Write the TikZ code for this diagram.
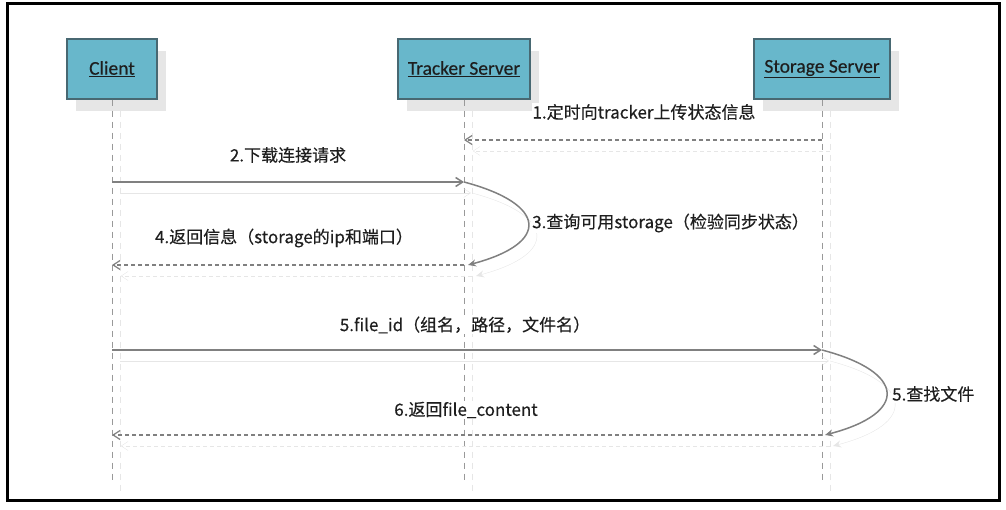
\documentclass[tikz,border=0pt]{standalone}
\usepackage{fontspec}
\setmainfont{Noto Sans CJK SC}[FakeBold=0.3]
\newfontfamily\titlefont{Carlito}[FakeBold=0.3]
\usetikzlibrary{positioning,arrows.meta,shadows}
\definecolor{coloractor} {RGB}{104,183,203}
\definecolor{colorborder}{RGB}{72 ,104,114}
\definecolor{colortext}  {RGB}{30 ,30 ,30 }
\definecolor{colorline}  {RGB}{128,128,128}
\definecolor{colorshadow}{RGB}{230,230,230}

\begin{document}
\begin{tikzpicture}[
    x=1pt, y=-1pt,
    font={\fontsize{17}{20}\selectfont},
    actor/.style={draw=colorborder,line width=1.2pt,fill=coloractor,minimum height=60,
        text=colortext,font={\titlefont\fontsize{19.5}{22}\selectfont},
        drop shadow={shadow xshift=9pt,shadow yshift=-12pt,fill=colorshadow,opacity=1}},
    ghost/.style={preaction={draw=colorshadow,#1,transform canvas={shift={(8,11)}}}},
    ghost/.default={},
    lifeline/.style={ghost={dash pattern=on 6pt off 5pt},draw=colorline!80,line width=1pt,
        dash pattern=on 6pt off 5pt},
    msg/.style={ghost,draw=colorline,line width=1.5pt,-{Straight Barb[length=7pt,width=9pt]}},
    reply/.style={ghost={dash pattern=on 4pt off 3pt},draw=colorline,line width=1.2pt,
        dash pattern=on 4pt off 3pt,-{Straight Barb[length=7pt,width=9pt]}},
    selfloop/.style={ghost,draw=colorline,line width=1.5pt,-{Stealth[length=8pt,width=7pt]}},
    label/.style={text=colortext,fill=white,inner sep=1pt},
]
    \useasboundingbox (0,0) rectangle (1006,510);
    \draw[line width=3pt] (7,4) rectangle (999,500);

    % actors and lifelines
    \node[actor,minimum width=90]  (client)  at (112,69) {\underline{Client}};
    \node[actor,minimum width=132] (tracker) at (464,69) {\underline{Tracker Server}};
    \node[actor,minimum width=136] (storage) at (822,69) {\underline{Storage Server}};
    \coordinate (bottom) at (0,481);
    \foreach \n in {client,tracker,storage}
        \draw[lifeline] (\n) -- (\n |- bottom);

    % message rows
    \coordinate (r1) at (0,140);
    \coordinate (r2) at (0,182);
    \coordinate (r4) at (0,265);
    \coordinate (r5) at (0,350);
    \coordinate (r6) at (0,435);

    \draw[reply] (storage |- r1) -- (tracker |- r1);
    \node[label] (l1) at (644,112) {1.定时向tracker上传状态信息};

    \draw[msg] (client |- r2) -- (tracker |- r2);
    \node[label] (l2) at (288,155) {2.下载连接请求};

    \draw[selfloop] (tracker |- r2) .. controls +(83,22) and +(83,-22) .. ([xshift=4pt]tracker |- r4);
    \node[label,anchor=west] (l3) at (531,223) {3.查询可用storage（检验同步状态）};

    \draw[reply] (tracker |- r4) -- (client |- r4);
    \node[label] (l4) at (284,238) {4.返回信息（storage的ip和端口）};

    \draw[msg] (client |- r5) -- (storage |- r5);
    \node[label] (l5) at (465,325) {5.file\_id（组名，路径，文件名）};

    \draw[selfloop] (storage |- r5) .. controls +(84,22) and +(84,-22) .. ([xshift=3pt]storage |- r6);
    \node[label,anchor=west] (l5b) at (891,394) {5.查找文件};

    \draw[reply] (storage |- r6) -- (client |- r6);
    \node[label] (l6) at (466,410) {6.返回file\_content};

\end{tikzpicture}
\end{document}
